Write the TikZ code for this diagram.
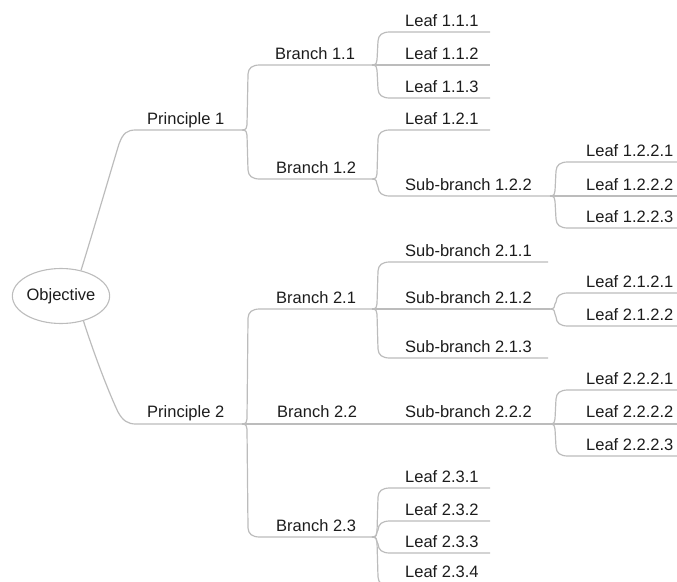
\documentclass[tikz,border=0pt]{standalone}
\usepackage{fontspec}
\setmainfont{Liberation Sans}
\usetikzlibrary{calc,shapes.geometric}
\definecolor{ink}{RGB}{28,28,28}
\definecolor{wire}{RGB}{188,188,188}
\tikzset{
  lbl/.style={anchor=base west, inner sep=0pt, text=ink,
              font=\fontsize{16.5}{20}\selectfont},
  edge/.style={draw=wire, line width=1.2pt, line join=round},
  % brace-like fork: leave the parent's end, run vertically, round into the child's underline
  fork/.style={to path={
    let \p1=(\tikztostart), \p2=(\tikztotarget), \n1={sign(\y2-\y1)} in
    .. controls (\x1+4pt,\y1) and (\x1+5pt,\y1+2pt*\n1) .. (\x1+5pt,\y1+5pt*\n1)
    -- (\x1+6pt,\y2-9pt*\n1)
    .. controls (\x1+6.5pt,\y2-3pt*\n1) and (\x1+10pt,\y2) .. (\x1+18pt,\y2)
    -- (\p2)}}
}
\begin{document}
\begin{tikzpicture}[x=1pt,y=-1pt]
\useasboundingbox (0,0) rectangle (677,581);
\clip (0,0) rectangle (677,581);

% root
\node[ellipse, draw=wire, line width=1.1pt, minimum width=97pt, minimum height=55pt,
      inner sep=0pt, text=ink, font=\fontsize{16.5}{20}\selectfont] (obj) at (61,296) {Objective};

% level 1
\coordinate (P1s) at (136,130); \coordinate (P1e) at (242,130);
\coordinate (P2s) at (136,424); \coordinate (P2e) at (242,424);
\node[lbl] (P1) at (147,124) {Principle 1};
\node[lbl] (P2) at (147,417) {Principle 2};

% level 2
\coordinate (B11e) at (372,65);
\coordinate (B12e) at (372,179);
\coordinate (B21e) at (372,309);
\coordinate (B22e) at (372,424);
\coordinate (B23e) at (372,537);
\node[lbl] (B11) at (275,59) {Branch 1.1};
\node[lbl] (B12) at (276,173) {Branch 1.2};
\node[lbl] (B21) at (276,303) {Branch 2.1};
\node[lbl] (B22) at (277,417) {Branch 2.2};
\node[lbl] (B23) at (276,531) {Branch 2.3};

% level 3
\coordinate (L111e) at (490,32);
\coordinate (L112e) at (490,65);
\coordinate (L113e) at (490,98);
\coordinate (L121e) at (490,130);
\coordinate (S122e) at (550,196);
\coordinate (S211e) at (548,262);
\coordinate (S212e) at (550,309);
\coordinate (S213e) at (548,358);
\coordinate (S222e) at (550,424);
\coordinate (L231e) at (490,488);
\coordinate (L232e) at (490,521);
\coordinate (L233e) at (490,553);
\coordinate (L234e) at (490,586);
\node[lbl] (L111) at (405,26) {Leaf 1.1.1};
\node[lbl] (L112) at (405,59) {Leaf 1.1.2};
\node[lbl] (L113) at (405,92) {Leaf 1.1.3};
\node[lbl] (L121) at (405,124) {Leaf 1.2.1};
\node[lbl] (S122) at (405,190) {Sub-branch 1.2.2};
\node[lbl] (S211) at (405,256) {Sub-branch 2.1.1};
\node[lbl] (S212) at (405,303) {Sub-branch 2.1.2};
\node[lbl] (S213) at (405,352) {Sub-branch 2.1.3};
\node[lbl] (S222) at (405,417) {Sub-branch 2.2.2};
\node[lbl] (L231) at (405,482) {Leaf 2.3.1};
\node[lbl] (L232) at (405,515) {Leaf 2.3.2};
\node[lbl] (L233) at (405,547) {Leaf 2.3.3};
\node[lbl] (L234) at (405,577) {Leaf 2.3.4};

% level 4
\coordinate (L1221e) at (677,162);
\coordinate (L1222e) at (677,196);
\coordinate (L1223e) at (677,228);
\coordinate (L2121e) at (677,293);
\coordinate (L2122e) at (677,326);
\coordinate (L2221e) at (677,390);
\coordinate (L2222e) at (677,424);
\coordinate (L2223e) at (677,456);
\node[lbl] (L1221) at (586,156) {Leaf 1.2.2.1};
\node[lbl] (L1222) at (586,190) {Leaf 1.2.2.2};
\node[lbl] (L1223) at (586,222) {Leaf 1.2.2.3};
\node[lbl] (L2121) at (586,287) {Leaf 2.1.2.1};
\node[lbl] (L2122) at (586,320) {Leaf 2.1.2.2};
\node[lbl] (L2221) at (586,384) {Leaf 2.2.2.1};
\node[lbl] (L2222) at (586,417) {Leaf 2.2.2.2};
\node[lbl] (L2223) at (586,450) {Leaf 2.2.2.3};

% root connectors: nearly straight runs that round into the principle underlines
\draw[edge] (obj.52) .. controls (96,222) and (114,160) .. (119,144)
            .. controls (123,133) and (127,130) .. (P1s) -- (P1e);
\draw[edge] (obj.-48) .. controls (96,360) and (110,395) .. (118,412)
            .. controls (123,421) and (128,424) .. (P2s) -- (P2e);

% forks
\foreach \p/\c in {P1e/B11e, P1e/B12e, P2e/B21e, P2e/B22e, P2e/B23e,
                   B11e/L111e, B11e/L112e, B11e/L113e,
                   B12e/L121e, B12e/S122e,
                   B21e/S211e, B21e/S212e, B21e/S213e,
                   B22e/S222e,
                   B23e/L231e, B23e/L232e, B23e/L233e, B23e/L234e,
                   S122e/L1221e, S122e/L1222e, S122e/L1223e,
                   S212e/L2121e, S212e/L2122e,
                   S222e/L2221e, S222e/L2222e, S222e/L2223e}
  \draw[edge] (\p) to[fork] (\c);
\end{tikzpicture}
\end{document}
